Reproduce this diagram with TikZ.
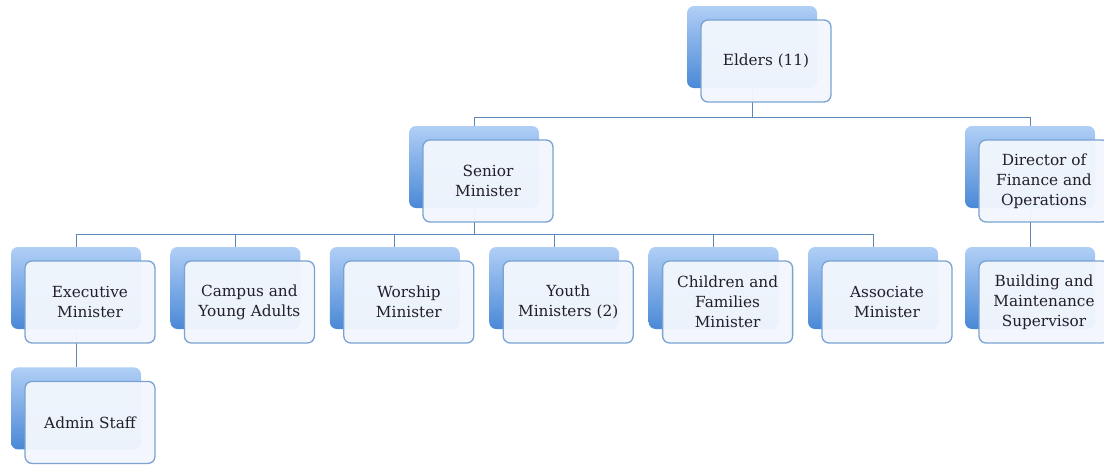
\documentclass[tikz,border=0pt]{standalone}
\usepackage{fontspec}
\setmainfont{DejaVu Serif}
\usetikzlibrary{positioning}
\definecolor{boxtop}{HTML}{B0CFF6}
\definecolor{boxbot}{HTML}{4A88D6}
\definecolor{boxfill}{HTML}{F2F7FD}
\definecolor{boxline}{HTML}{7AA2D2}
\definecolor{linkcol}{HTML}{5D86B6}
\definecolor{txtcol}{HTML}{231F2A}
\tikzset{
  backbox/.style={rectangle,rounded corners=7pt,minimum width=130pt,minimum height=82pt,
    top color=boxtop,bottom color=boxbot,draw=none},
  frontbox/.style={rectangle,rounded corners=7pt,minimum width=130pt,minimum height=82pt,
    fill=boxfill,fill opacity=0.96,text opacity=1,draw=boxline,line width=1.3pt,
    align=center,text=txtcol,font=\fontsize{15.3}{20}\selectfont,xshift=14pt,yshift=-14pt},
  link/.style={draw=linkcol,line width=0.9pt}
}
\begin{document}
\begin{tikzpicture}[x=1pt,y=-1pt]
\useasboundingbox (0,0) rectangle (1104,464);
% back boxes
\node[backbox] (eldersB) at (752,47) {};
\node[backbox] (seniorB) at (474,167) {};
\node[backbox] (directorB) at (1030,167) {};
\node[backbox] (execB) at (76,288) {};
\node[backbox,right=29pt of execB] (campusB) {};
\node[backbox,right=29pt of campusB] (worshipB) {};
\node[backbox,right=29pt of worshipB] (youthB) {};
\node[backbox,right=29pt of youthB] (childrenB) {};
\node[backbox,right=29pt of childrenB] (associateB) {};
\node[backbox] (buildingB) at (1030,288) {};
\node[backbox,below=38pt of execB] (adminB) {};
% connectors
\draw[link] (eldersB.south) -- ++(0,29) -| (seniorB.north);
\draw[link] (eldersB.south) -- ++(0,29) -| (directorB.north);
\draw[link] (seniorB.south) -- ++(0,26) -| (execB.north);
\draw[link] (seniorB.south) -- ++(0,26) -| (campusB.north);
\draw[link] (seniorB.south) -- ++(0,26) -| (worshipB.north);
\draw[link] (seniorB.south) -- ++(0,26) -| (youthB.north);
\draw[link] (seniorB.south) -- ++(0,26) -| (childrenB.north);
\draw[link] (seniorB.south) -- ++(0,26) -| (associateB.north);
\draw[link] (directorB.south) -- (buildingB.north);
\draw[link] (execB.south) -- (adminB.north);
% front boxes
\node[frontbox] (elders) at (eldersB) {Elders (11)};
\node[frontbox] (senior) at (seniorB) {Senior\\Minister};
\node[frontbox] (director) at (directorB) {Director of\\Finance and\\Operations};
\node[frontbox] (exec) at (execB) {Executive\\Minister};
\node[frontbox] (campus) at (campusB) {Campus and\\Young Adults};
\node[frontbox] (worship) at (worshipB) {Worship\\Minister};
\node[frontbox] (youth) at (youthB) {Youth\\Ministers (2)};
\node[frontbox] (children) at (childrenB) {Children and\\Families\\Minister};
\node[frontbox] (associate) at (associateB) {Associate\\Minister};
\node[frontbox] (building) at (buildingB) {Building and\\Maintenance\\Supervisor};
\node[frontbox] (admin) at (adminB) {Admin Staff};
\end{tikzpicture}
\end{document}
